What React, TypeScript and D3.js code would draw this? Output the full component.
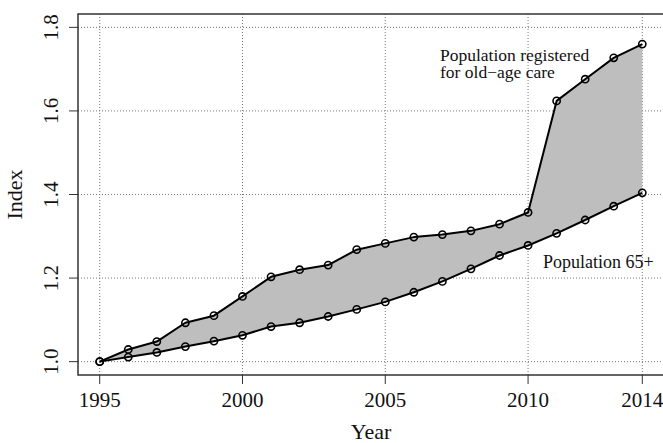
import React from "react";
import * as d3 from "d3";

const years = [1995, 1996, 1997, 1998, 1999, 2000, 2001, 2002, 2003, 2004, 2005, 2006, 2007, 2008, 2009, 2010, 2011, 2012, 2013, 2014];
const registeredCare = [1.0, 1.029, 1.048, 1.093, 1.11, 1.156, 1.203, 1.22, 1.231, 1.268, 1.283, 1.298, 1.304, 1.313, 1.329, 1.357, 1.624, 1.676, 1.727, 1.76];
const population65 = [1.0, 1.011, 1.022, 1.036, 1.049, 1.063, 1.084, 1.093, 1.108, 1.125, 1.143, 1.166, 1.192, 1.222, 1.254, 1.278, 1.307, 1.339, 1.372, 1.404];
const xTicks = [1995, 2000, 2005, 2010, 2014];
const yTicks = [1.0, 1.2, 1.4, 1.6, 1.8];

const W = 663;
const H = 443;
const FONT = "'Liberation Serif', 'Times New Roman', serif";

export default function App() {
  const x = d3.scaleLinear().domain([1995 - 0.76, 2014 + 0.76]).range([78, 664]);
  const y = d3.scaleLinear().domain([0.968, 1.832]).range([375, 14]);
  const [x0, x1] = x.range();
  const [yb, yt] = y.range();

  const area = d3
    .area<number>()
    .x((_, i) => x(years[i]))
    .y0((_, i) => y(population65[i]))
    .y1((_, i) => y(registeredCare[i]));
  const line = d3
    .line<number>()
    .x((_, i) => x(years[i]))
    .y((v) => y(v));

  const series = [registeredCare, population65];

  return (
    <svg
      width={W}
      height={H}
      style={{ position: "absolute", left: 0, top: 0, background: "#fff" }}
      fontFamily={FONT}
    >
      <rect x={0} y={0} width={W} height={H} fill="#fff" />
      {/* grid */}
      {xTicks.map((t) => (
        <line key={"gx" + t} x1={x(t)} x2={x(t)} y1={yt} y2={yb} stroke="#777" strokeWidth={1} strokeDasharray="1,2" />
      ))}
      {yTicks.map((t) => (
        <line key={"gy" + t} x1={x0} x2={x1} y1={y(t)} y2={y(t)} stroke="#777" strokeWidth={1} strokeDasharray="1,2" />
      ))}
      {/* band */}
      <path d={area(years.map(() => 0)) || ""} fill="#bebebe" stroke="none" />
      {series.map((s, k) => (
        <path key={"l" + k} d={line(s) || ""} fill="none" stroke="#000" strokeWidth={2} strokeLinejoin="round" />
      ))}
      {series.map((s, k) =>
        s.map((v, i) => (
          <circle key={"p" + k + "-" + i} cx={x(years[i])} cy={y(v)} r={3.6} fill="none" stroke="#000" strokeWidth={1.6} />
        ))
      )}
      {/* box */}
      <rect x={x0} y={yt} width={x1 - x0} height={yb - yt} fill="none" stroke="#333" strokeWidth={1.5} />
      {/* x axis ticks */}
      {xTicks.map((t) => (
        <g key={"xt" + t}>
          <line x1={x(t)} x2={x(t)} y1={yb} y2={yb + 9} stroke="#333" strokeWidth={1} />
          <text x={x(t)} y={407} textAnchor="middle" fontSize={21} fill="#111">
            {t}
          </text>
        </g>
      ))}
      {yTicks.map((t) => (
        <g key={"yt" + t}>
          <line x1={x0 - 9} x2={x0} y1={y(t)} y2={y(t)} stroke="#333" strokeWidth={1} />
          <text
            transform={`translate(58,${y(t)}) rotate(-90)`}
            textAnchor="middle"
            fontSize={21}
            fill="#111"
          >
            {t.toFixed(1)}
          </text>
        </g>
      ))}
      <text x={(x0 + x1) / 2} y={439} textAnchor="middle" fontSize={22} fill="#111">
        Year
      </text>
      <text transform={`translate(22,${(yt + yb) / 2}) rotate(-90)`} textAnchor="middle" fontSize={22} fill="#111">
        Index
      </text>
      {/* annotations */}
      <text x={440} y={61} fontSize={17.5} fill="#111">
        Population registered
      </text>
      <text x={440} y={78} fontSize={17.5} fill="#111">
        for old−age care
      </text>
      <text x={543} y={268} fontSize={18} fill="#111">
        Population 65+
      </text>
    </svg>
  );
}
